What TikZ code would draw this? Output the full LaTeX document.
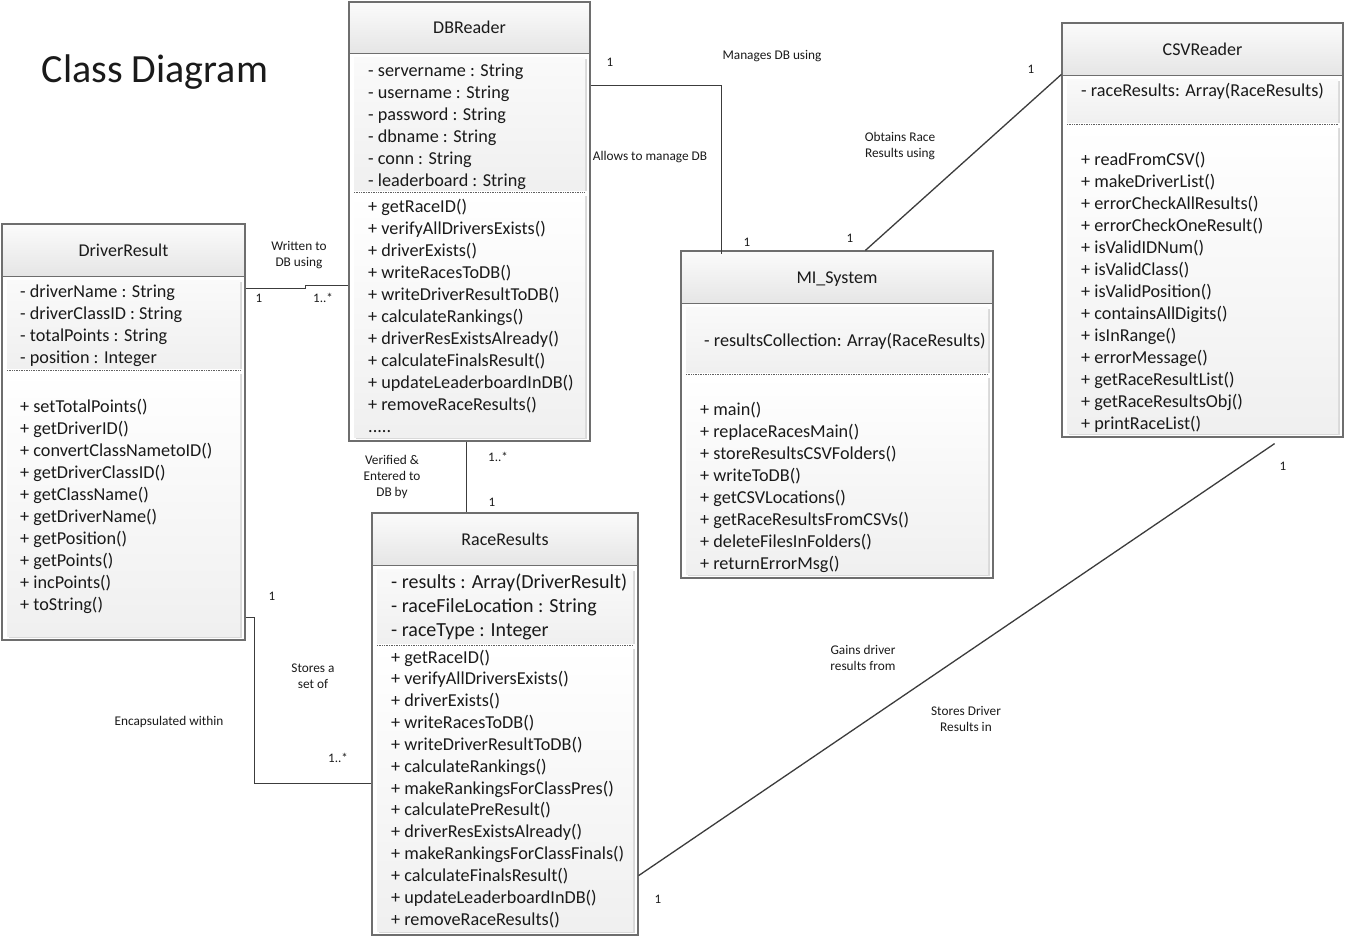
\documentclass[tikz,border=0pt]{standalone}
\usepackage{fontspec}
\setmainfont{Carlito}
\usetikzlibrary{fit}
\definecolor{boxgray}{HTML}{6E6E6E}
\definecolor{wire}{HTML}{3C3C3C}
\definecolor{ink}{HTML}{1A1A1A}

% the trailing "more operations" row of DBReader
\newcommand\moreops{.\kern0pt.\kern0pt.\kern0pt.\kern0pt.}

% One UML class: name, x1, y1, x2, y2, header bottom, divider between attributes and operations
\newcommand\umlclass[7]{%
  \fill[white] (#2,#3) rectangle (#4,#5);
  \shade[top color=gray!3, bottom color=gray!20] (#2,#3) rectangle (#4,#6);
  % attribute panel with its shadow
  \fill[gray!30] ({#2+7},{#6+6}) rectangle ({#4-3},{#7-1});
  \shade[top color=gray!4, bottom color=gray!12] ({#2+5},{#6+4}) rectangle ({#4-5},{#7-2});
  % operation panel with its shadow
  \fill[gray!30] ({#2+7},{#7+4}) rectangle ({#4-3},{#5-2});
  \shade[top color=white, bottom color=gray!12] ({#2+5},{#7+2}) rectangle ({#4-5},{#5-4});
  \draw[boxgray, line width=1pt] (#2,#6) -- (#4,#6);
  \draw[dotline] ({#2+5},#7) -- ({#4-5},#7);
  \path (#2,#3) coordinate (#1-nw) (#4,#5) coordinate (#1-se);
  \node[fit=(#1-nw)(#1-se), inner sep=0pt, outline] (#1) {};
}

\begin{document}
\begin{tikzpicture}[x=1pt, y=-1pt,
  outline/.style={draw=boxgray, line width=1.2pt},
  dotline/.style={draw=gray!75!black, line width=0.7pt, dash pattern=on 0.8pt off 0.9pt},
  wireline/.style={draw=wire, line width=1.3pt},
  classname/.style={anchor=base, inner sep=0pt, text=ink, font=\fontsize{18}{20}\selectfont},
  member/.style={anchor=base west, inner sep=0pt, text=ink, font=\fontsize{18.2}{20}\selectfont},
  bigmember/.style={anchor=base west, inner sep=0pt, text=ink, font=\fontsize{20}{22}\selectfont},
  note/.style={inner sep=0pt, align=center, text=ink, font=\fontsize{13.3}{16}\selectfont},
  mult/.style={inner sep=0pt, text=ink, font=\fontsize{13}{14}\selectfont}]

\useasboundingbox[fill=white] (0,0) rectangle (1347,940);

\node[anchor=base, inner sep=0pt, text=ink, font=\fontsize{40}{44}\selectfont] (title) at (155,82) {Class Diagram};

% ---------- classes ----------
\umlclass{dbr}{349}{2}{590}{441}{53}{192}
\node[classname] (dbr-t) at (469.5,33) {DBReader};
\foreach \t [count=\i from 0] in {- servername : String, - username : String, - password : String,
    - dbname : String, - conn : String, - leaderboard : String}
  \node[member] (dba\i) at (368,{76+22*\i}) {\t};
\foreach \t [count=\i from 0] in {+ getRaceID(), + verifyAllDriversExists(), + driverExists(),
    + writeRacesToDB(), + writeDriverResultToDB(), + calculateRankings(), + driverResExistsAlready(),
    + calculateFinalsResult(), + updateLeaderboardInDB(), + removeRaceResults(), \moreops}
  \node[member] (dbm\i) at (368,{212+22*\i}) {\t};

\umlclass{drv}{2}{224}{245}{640}{276}{370}
\node[classname] (drv-t) at (123.5,256) {DriverResult};
\foreach \t [count=\i from 0] in {- driverName : String, - driverClassID : String,
    - totalPoints : String, - position : Integer}
  \node[member] (dra\i) at (20,{297+22*\i}) {\t};
\foreach \t [count=\i from 0] in {+ setTotalPoints(), + getDriverID(), + convertClassNametoID(),
    + getDriverClassID(), + getClassName(), + getDriverName(), + getPosition(), + getPoints(),
    + incPoints(), + toString()}
  \node[member] (drm\i) at (20,{412+22*\i}) {\t};

\umlclass{mis}{681}{251}{993}{578}{303}{374}
\node[classname] (mis-t) at (837,283) {MI\_System};
\node[member] (msa0) at (704,346) {- resultsCollection: Array(RaceResults)};
\foreach \t [count=\i from 0] in {+ main(), + replaceRacesMain(), + storeResultsCSVFolders(),
    + writeToDB(), + getCSVLocations(), + getRaceResultsFromCSVs(), + deleteFilesInFolders(),
    + returnErrorMsg()}
  \node[member] (msm\i) at (700,{415+22*\i}) {\t};

\umlclass{csv}{1062}{23}{1343}{437}{75}{124}
\node[classname] (csv-t) at (1202.5,55) {CSVReader};
\node[member] (csa0) at (1081,96) {- raceResults: Array(RaceResults)};
\foreach \t [count=\i from 0] in {+ readFromCSV(), + makeDriverList(), + errorCheckAllResults(),
    + errorCheckOneResult(), + isValidIDNum(), + isValidClass(), + isValidPosition(),
    + containsAllDigits(), + isInRange(), + errorMessage(), + getRaceResultList(),
    + getRaceResultsObj(), + printRaceList()}
  \node[member] (csm\i) at (1081,{165+22*\i}) {\t};

\umlclass{rr}{372}{513}{638}{935}{565}{645}
\node[classname] (rr-t) at (505,545) {RaceResults};
\foreach \t [count=\i from 0] in {- results : Array(DriverResult), - raceFileLocation : String,
    - raceType : Integer}
  \node[bigmember] (rra\i) at (391,{588+24*\i}) {\t};
\foreach \t [count=\i from 0] in {+ getRaceID(), + verifyAllDriversExists(), + driverExists(),
    + writeRacesToDB(), + writeDriverResultToDB(), + calculateRankings(),
    + makeRankingsForClassPres(), + calculatePreResult(), + driverResExistsAlready(),
    + makeRankingsForClassFinals(), + calculateFinalsResult(), + updateLeaderboardInDB(),
    + removeRaceResults()}
  \node[member] (rrm\i) at (391,{663+21.85*\i}) {\t};

% ---------- associations ----------
\draw[wireline] ([yshift=-65pt]drv.north east) -- ++(60,0) -- ++(0,-3) -- ([yshift=-284pt]dbr.north west);
\draw[wireline] ([yshift=-84pt]dbr.north east) -| ([xshift=41pt,yshift=-4pt]mis.north west);
\draw[wireline] ([yshift=-52pt]csv.north west) -- ([xshift=185pt]mis.north west);
\draw[wireline] ([xshift=118pt]dbr.south west) -- ([xshift=95pt]rr.north west);
\draw[wireline] ([yshift=23pt]drv.south east) -- ++(9,0) |- ([yshift=-271pt]rr.north west);
\draw[wireline] ([xshift=-69pt,yshift=-6pt]csv.south east) -- ([yshift=60pt]rr.south east);

% ---------- association labels ----------
\node[note] (n1) at (299,255) {Written to\\DB using};
\node[mult] (m1a) at (259,298) {1};
\node[mult] (m1b) at (323,298) {1..*};

\node[mult] (m2a) at (610,62) {1};
\node[note] (n2a) at (772,56) {Manages DB using};
\node[note] (n2b) at (650,157) {Allows to manage DB};
\node[mult] (m2b) at (747,242) {1};

\node[mult] (m3a) at (1031,69) {1};
\node[note] (n3) at (900,146) {Obtains Race\\Results using};
\node[mult] (m3b) at (850,238) {1};

\node[note] (n4) at (392,477) {Verified \&\\Entered to\\DB by};
\node[mult] (m4a) at (498,457) {1..*};
\node[mult] (m4b) at (492,502) {1};

\node[mult] (m5a) at (272,596) {1};
\node[note] (n5a) at (313,676) {Stores a\\set of};
\node[mult] (m5b) at (338,758) {1..*};
\node[note] (n5b) at (169,722) {Encapsulated within};

\node[mult] (m6a) at (1283,466) {1};
\node[mult] (m6b) at (658,899) {1};
\node[note] (n6a) at (863,658) {Gains driver\\results from};
\node[note] (n6b) at (966,719) {Stores Driver\\Results in};
\end{tikzpicture}
\end{document}
